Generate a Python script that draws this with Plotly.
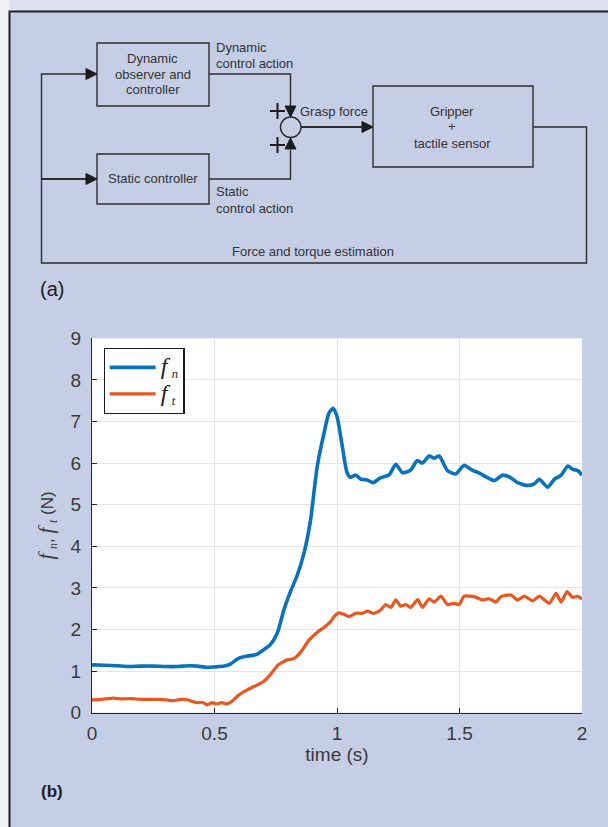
import plotly.graph_objects as go

# ---------------- data ----------------
t_fn = [0, 0.05, 0.1, 0.15, 0.2, 0.25, 0.3, 0.35, 0.4, 0.43, 0.47, 0.5, 0.54, 0.565,
        0.6, 0.634, 0.67, 0.70, 0.727, 0.756, 0.783, 0.81, 0.838, 0.865, 0.892, 0.919,
        0.947, 0.967, 0.984, 1.0, 1.022, 1.04, 1.054, 1.077, 1.098, 1.12, 1.148, 1.175,
        1.213, 1.24, 1.267, 1.3, 1.328, 1.348, 1.376, 1.396, 1.417, 1.451, 1.485, 1.519,
        1.546, 1.587, 1.642, 1.675, 1.703, 1.737, 1.778, 1.805, 1.826, 1.86, 1.887,
        1.915, 1.942, 1.962, 1.983, 2.0]
fn = [1.15, 1.14, 1.13, 1.11, 1.12, 1.12, 1.11, 1.11, 1.13, 1.12, 1.09, 1.1, 1.12, 1.17,
      1.31, 1.36, 1.40, 1.51, 1.63, 1.91, 2.47, 2.91, 3.31, 3.83, 4.63, 5.91,
      6.72, 7.2, 7.32, 7.12, 6.39, 5.79, 5.66, 5.71, 5.61, 5.6, 5.53, 5.64,
      5.72, 5.97, 5.77, 5.83, 6.06, 6.0, 6.17, 6.12, 6.17, 5.82, 5.74, 5.95,
      5.85, 5.74, 5.58, 5.71, 5.67, 5.53, 5.46, 5.5, 5.61, 5.42, 5.61,
      5.71, 5.93, 5.85, 5.82, 5.71]

t_ft = [0, 0.04, 0.088, 0.12, 0.156, 0.2, 0.265, 0.3, 0.333, 0.36, 0.388, 0.41, 0.43,
        0.45, 0.47, 0.49, 0.51, 0.53, 0.55, 0.57, 0.6, 0.634, 0.675, 0.70, 0.727, 0.76,
        0.797, 0.824, 0.851, 0.886, 0.919, 0.953, 0.974, 0.988, 1.008, 1.03, 1.049,
        1.076, 1.104, 1.124, 1.151, 1.178, 1.199, 1.22, 1.24, 1.26, 1.281, 1.301,
        1.329, 1.349, 1.376, 1.397, 1.424, 1.451, 1.478, 1.499, 1.519, 1.56, 1.594,
        1.62, 1.649, 1.669, 1.71, 1.737, 1.765, 1.799, 1.826, 1.867, 1.894, 1.915,
        1.939, 1.962, 1.983, 2.0]
ft = [0.31, 0.32, 0.35, 0.33, 0.34, 0.32, 0.32, 0.31, 0.29, 0.32, 0.31, 0.27, 0.24,
      0.25, 0.19, 0.24, 0.21, 0.24, 0.21, 0.27, 0.43, 0.55, 0.67, 0.75, 0.91, 1.15,
      1.27, 1.3, 1.45, 1.75, 1.93, 2.08, 2.19, 2.31, 2.40, 2.36, 2.31,
      2.39, 2.39, 2.44, 2.39, 2.47, 2.6, 2.53, 2.71, 2.56, 2.6, 2.53,
      2.72, 2.53, 2.74, 2.66, 2.8, 2.6, 2.63, 2.6, 2.8, 2.79, 2.71,
      2.74, 2.66, 2.79, 2.83, 2.71, 2.8, 2.69, 2.8, 2.63, 2.87, 2.66,
      2.91, 2.77, 2.8, 2.73]

x_ticks = [0, 0.5, 1, 1.5, 2]
x_ticklabels = ["0", "0.5", "1", "1.5", "2"]
y_ticks = list(range(0, 10))
y_ticklabels = [str(v) for v in y_ticks]

# ---------------- geometry helpers ----------------
W, H = 608, 827
def px(x): return x / W
def py(y): return 1 - y / H

LINE = "#2e2e2e"
BG = "#c6cee6"
shapes = []
annotations = []

def poly(points, width=1.4, color=LINE):
    d = "M " + " L ".join(f"{px(x):.5f},{py(y):.5f}" for x, y in points)
    shapes.append(dict(type="path", xref="paper", yref="paper", path=d,
                       line=dict(color=color, width=width)))

def rect(x0, y0, x1, y1, width=1.4):
    shapes.append(dict(type="rect", xref="paper", yref="paper",
                       x0=px(x0), x1=px(x1), y0=py(y1), y1=py(y0),
                       line=dict(color=LINE, width=width)))

def arrow(tx, ty, d, L=11, hw=5.5):
    if d == "r":
        pts = [(tx - L, ty - hw), (tx, ty), (tx - L, ty + hw)]
    elif d == "d":
        pts = [(tx - hw, ty - L), (tx, ty), (tx + hw, ty - L)]
    else:  # up
        pts = [(tx - hw, ty + L), (tx, ty), (tx + hw, ty + L)]
    p = "M " + " L ".join(f"{px(x):.5f},{py(y):.5f}" for x, y in pts) + " Z"
    shapes.append(dict(type="path", xref="paper", yref="paper", path=p,
                       fillcolor="#1c1c1c", line=dict(color="#1c1c1c", width=1)))

def text(x, y, s, size=13, xanchor="center", color="#333333", bold=False):
    annotations.append(dict(xref="paper", yref="paper", x=px(x), y=py(y), text=s,
                            showarrow=False, xanchor=xanchor, yanchor="middle",
                            font=dict(family="Liberation Sans, Arial", size=size,
                                      color=color, weight="bold" if bold else "normal")))

# outer page regions and border
shapes.append(dict(type="rect", xref="paper", yref="paper", x0=0, x1=1, y0=py(11.5), y1=1,
                   fillcolor="#dde1ee", line=dict(width=0), layer="below"))
shapes.append(dict(type="rect", xref="paper", yref="paper", x0=0, x1=px(9.5), y0=0, y1=1,
                   fillcolor="#eef0f6", line=dict(width=0), layer="below"))
poly([(9.5, 827), (9.5, 11.5), (608, 11.5)], width=2, color="#222222")

# ---------------- block diagram ----------------
rect(97, 43, 209, 106)
rect(97, 154, 209, 204)
rect(373, 86, 533, 167)
shapes.append(dict(type="circle", xref="paper", yref="paper",
                   x0=px(280.5), x1=px(301), y0=py(137.5), y1=py(117),
                   line=dict(color=LINE, width=1.5)))

poly([(209, 74), (290.5, 74), (290.5, 106)])
arrow(290.5, 117, "d")
poly([(209, 179), (290.5, 179), (290.5, 150)])
arrow(290.5, 138, "u")
poly([(301, 127), (362, 127)], width=2.2)
arrow(373, 127, "r")
poly([(533, 127), (586.5, 127), (586.5, 263), (41.5, 263), (41.5, 74), (86, 74)])
arrow(97, 74, "r")
poly([(41.5, 179), (86, 179)], width=2)
arrow(97, 179, "r")
# plus signs
for cx, cy in [(277.5, 111), (277.5, 145)]:
    poly([(cx - 7.5, cy), (cx + 7.5, cy)], width=2, color="#1c1c1c")
    poly([(cx, cy - 8), (cx, cy + 8)], width=2, color="#1c1c1c")

text(152.5, 58, "Dynamic")
text(152.5, 74, "observer and")
text(152.5, 90, "controller")
text(152.5, 179, "Static controller")
text(452.5, 111, "Gripper")
text(452.5, 127, "+")
text(452.5, 143, "tactile sensor")
text(214, 48, "Dynamic", xanchor="left")
text(214, 64, "control action", xanchor="left")
text(214, 192, "Static", xanchor="left")
text(214, 208, "control action", xanchor="left")
text(298, 111, "Grasp force", xanchor="left")
text(313, 251, "Force and torque estimation")
text(38, 289, "(a)", size=20, xanchor="left", color="#1e1e1e")
text(39, 791, "(b)", size=17, xanchor="left", color="#1e1e1e", bold=True)

# ---------------- chart ----------------
SERIF = "font-family:'Liberation Serif','Times New Roman',serif"
def fsub(s, size):
    return (f"<span style=\"{SERIF};font-size:{size}px\"><i>f</i></span> "
            f"<sub><span style=\"{SERIF}\"><i>{s}</i></span></sub>")

fig = go.Figure()
fig.add_trace(go.Scatter(x=t_fn, y=fn, mode="lines", name=fsub("n", 24),
                         line=dict(color="#0a72bc", width=3.6, shape="spline", smoothing=0.6)))
fig.add_trace(go.Scatter(x=t_ft, y=ft, mode="lines", name=fsub("t", 24),
                         line=dict(color="#e8571f", width=3.2, shape="spline", smoothing=0.5)))

axis_font = dict(family="Liberation Sans, Arial", size=19, color="#3a3a3a")
fig.update_layout(
    width=W, height=H,
    margin=dict(l=0, r=0, t=0, b=0),
    paper_bgcolor=BG, plot_bgcolor="white",
    showlegend=True,
    legend=dict(x=px(103.5), y=py(348), xanchor="left", yanchor="top",
                bgcolor="white", bordercolor="#1a1a1a", borderwidth=1.2,
                font=dict(family="Liberation Serif, Times New Roman", size=18, color="#222"),
                tracegroupgap=0, itemwidth=46),
    xaxis=dict(domain=[px(92), px(582)], range=[0, 2], tickmode="array",
               tickvals=x_ticks, ticktext=x_ticklabels, ticks="inside", ticklen=5,
               tickcolor="#262626", showline=True, linecolor="#262626", linewidth=1.2,
               showgrid=True, gridcolor="#e4e4e4", gridwidth=1, zeroline=False,
               tickfont=axis_font, automargin=False, ticklabelstandoff=3,
               title=dict(text="time (s)", font=axis_font, standoff=4)),
    yaxis=dict(domain=[py(712.7), py(338.3)], range=[0, 9], tickmode="array",
               tickvals=y_ticks, ticktext=y_ticklabels, ticks="inside", ticklen=5,
               tickcolor="#262626", showline=True, linecolor="#262626", linewidth=1.2,
               showgrid=True, gridcolor="#e4e4e4", gridwidth=1, zeroline=False,
               tickfont=axis_font, automargin=False, ticklabelstandoff=6,
               title=dict(text=fsub("n", 21) + ", " + fsub("t", 21) + " (N)",
                          font=dict(family="Liberation Sans, Arial", size=17, color="#3a3a3a"),
                          standoff=12)),
    shapes=shapes,
    annotations=annotations,
)

fig.write_html("out.html", config={"displayModeBar": False})

# remove the browser's default 8px page margin so the figure sits at (0,0)
with open("out.html", "r", encoding="utf-8") as f:
    html = f.read()
html = html.replace("<head>", "<head><style>html,body{margin:0;padding:0;overflow:hidden;}</style>", 1)
with open("out.html", "w", encoding="utf-8") as f:
    f.write(html)
